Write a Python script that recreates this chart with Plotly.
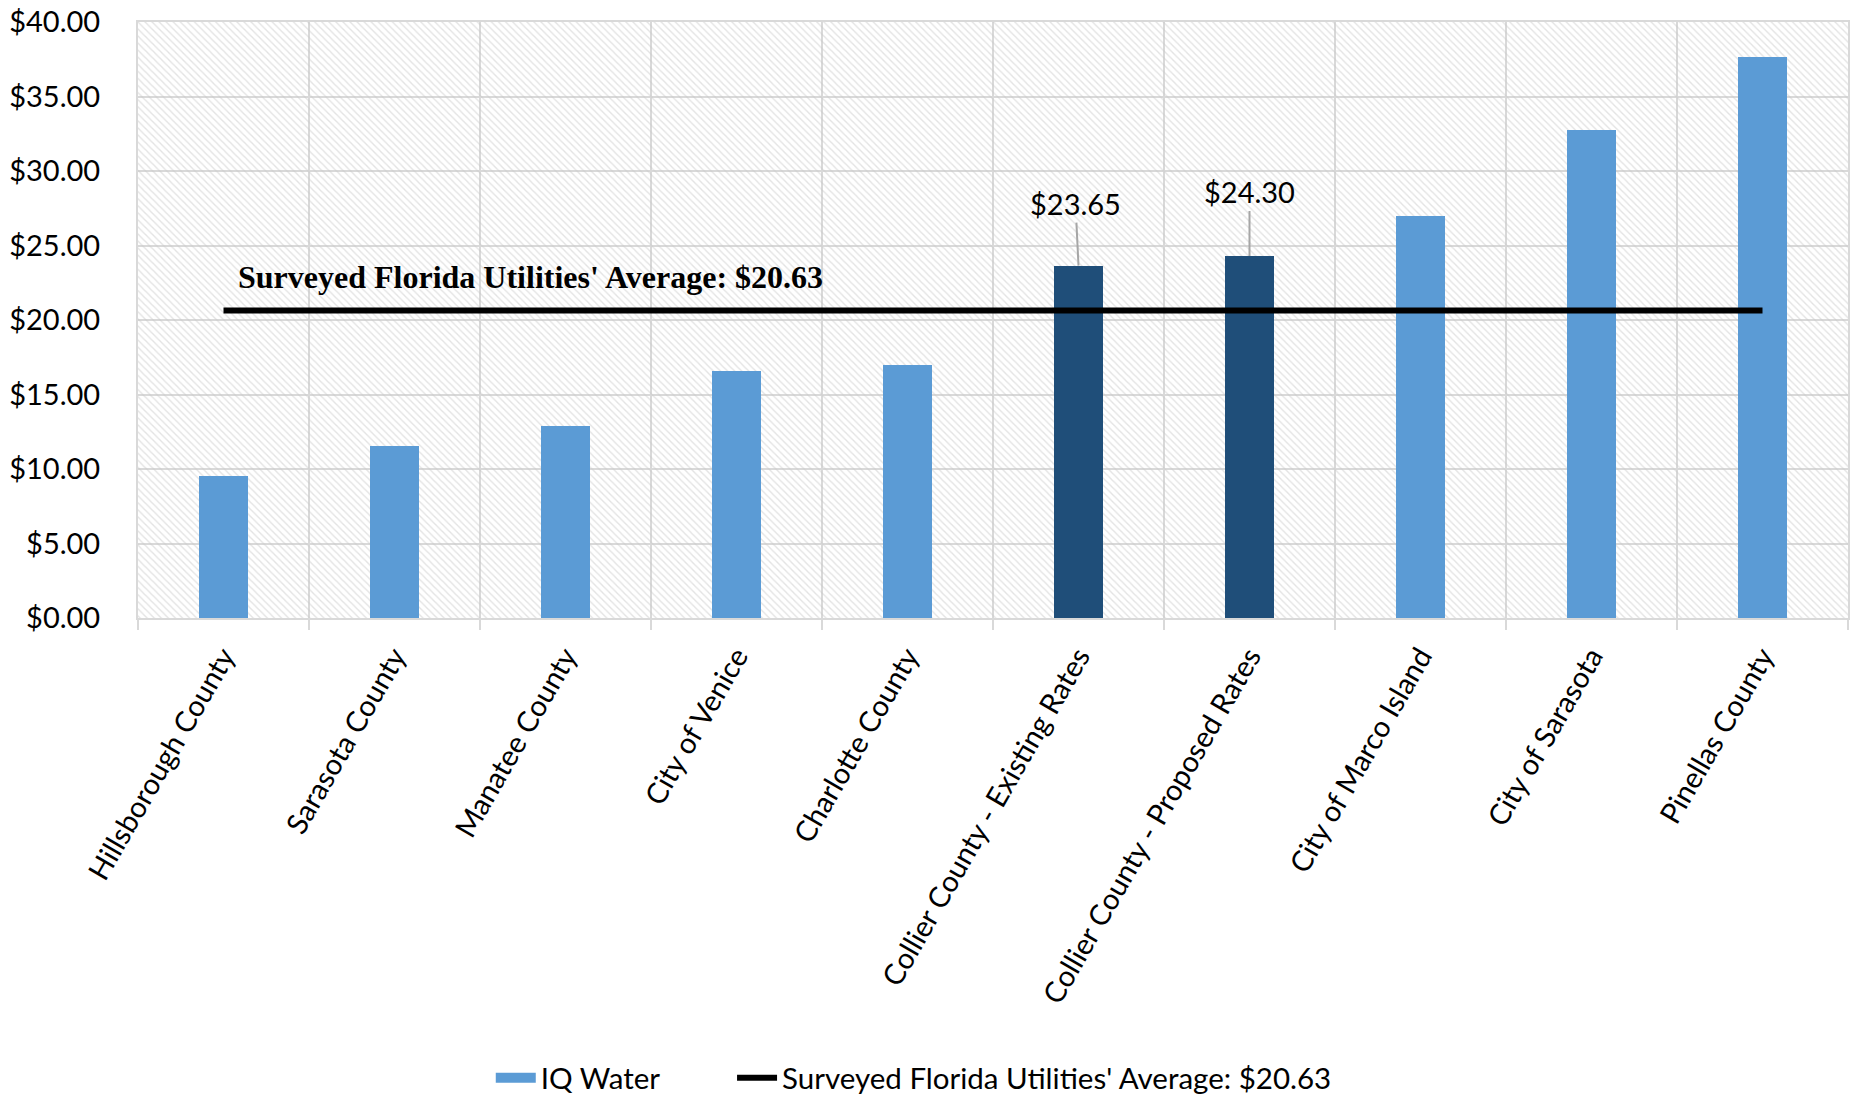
import plotly.graph_objects as go

# Monthly IQ (irrigation quality) water charges by utility
utilities = [
    "Hillsborough County",
    "Sarasota County",
    "Manatee County",
    "City of Venice",
    "Charlotte County",
    "Collier County - Existing Rates",
    "Collier County - Proposed Rates",
    "City of Marco Island",
    "City of Sarasota",
    "Pinellas County",
]
iq_charges = [9.50, 11.55, 12.90, 16.55, 17.00, 23.65, 24.30, 27.00, 32.75, 37.65]
survey_average = 20.63
average_label = "Surveyed Florida Utilities' Average: $20.63"

highlighted = {"Collier County - Existing Rates", "Collier County - Proposed Rates"}
LIGHT_BLUE = "#5B9BD5"
DARK_BLUE = "#1F4E79"
bar_colors = [DARK_BLUE if u in highlighted else LIGHT_BLUE for u in utilities]

Y_MAX = 40
FONT = "Lato, 'Open Sans', sans-serif"
LEGEND_FONT = dict(family=FONT, size=29.5, color="black")

fig = go.Figure()

# Hatched plot-area fill, tiled one full-width cell per category
fig.add_trace(go.Bar(
    x=utilities,
    y=[Y_MAX] * len(utilities),
    width=1.0,
    marker=dict(
        color="rgba(0,0,0,0)",
        line=dict(width=0),
        pattern=dict(shape="\\", fgcolor="#c8c8c8", bgcolor="rgba(0,0,0,0)",
                     size=5, solidity=0.28),
    ),
    hoverinfo="skip",
    showlegend=False,
))

fig.add_trace(go.Bar(
    x=utilities,
    y=iq_charges,
    name="IQ Water",
    legendgroup="iq",
    showlegend=False,
    width=0.287,
    marker=dict(color=bar_colors, line=dict(width=0)),
))

# Wide swatch for the IQ Water legend entry
fig.add_trace(go.Scatter(
    x=[None], y=[None],
    mode="lines",
    name="IQ Water",
    legendgroup="iq",
    legend="legend",
    line=dict(color=LIGHT_BLUE, width=17),
    hoverinfo="skip",
))

fig.add_trace(go.Scatter(
    x=utilities,
    y=[survey_average] * len(utilities),
    mode="lines",
    name=average_label,
    legend="legend2",
    line=dict(color="black", width=6),
))

# Value callouts with leader lines on the Collier County bars
for u, v in zip(utilities, iq_charges):
    if u in highlighted:
        fig.add_annotation(
            x=u, y=v, xref="x", yref="y",
            text=f"${v:.2f}",
            showarrow=True, arrowhead=0, arrowwidth=2, arrowcolor="#a6a6a6",
            ax=-3 if "Existing" in u else 0,
            ay=-62 if "Existing" in u else -64,
            standoff=0,
            font=dict(family=FONT, size=29, color="black"),
        )

fig.add_annotation(
    x=0.0573, xref="paper", xanchor="left",
    y=22.9, yref="y", yanchor="middle",
    text="<b>" + average_label + "</b>",
    showarrow=False,
    font=dict(family="'Liberation Serif', 'Times New Roman', serif", size=32, color="black"),
)

fig.update_layout(
    width=1856,
    height=1095,
    margin=dict(l=138, r=8, t=22, b=477, autoexpand=False),
    paper_bgcolor="white",
    plot_bgcolor="white",
    barmode="overlay",
    bargap=0,
    font=dict(family=FONT, size=29, color="black"),
    legend=dict(
        orientation="h",
        x=0.2063, xanchor="left",
        y=-0.772, yanchor="middle",
        font=LEGEND_FONT,
        bgcolor="rgba(0,0,0,0)",
        itemwidth=40,
    ),
    legend2=dict(
        orientation="h",
        x=0.3474, xanchor="left",
        y=-0.772, yanchor="middle",
        font=LEGEND_FONT,
        bgcolor="rgba(0,0,0,0)",
        itemwidth=40,
    ),
)

fig.update_xaxes(
    type="category",
    automargin=False,
    tickangle=-60,
    tickson="boundaries",
    ticks="outside",
    ticklen=10,
    tickwidth=2,
    tickcolor="#d9d9d9",
    ticklabelstandoff=8,
    showgrid=True,
    gridcolor="#d9d9d9",
    gridwidth=2,
    showline=True,
    linecolor="#d9d9d9",
    linewidth=2,
    mirror=True,
    tickfont=dict(family=FONT, size=29, color="black"),
)

fig.update_yaxes(
    range=[0, Y_MAX],
    automargin=False,
    dtick=5,
    tickprefix="$",
    tickformat=".2f",
    showgrid=True,
    gridcolor="#d9d9d9",
    gridwidth=2,
    showline=True,
    linecolor="#d9d9d9",
    linewidth=2,
    mirror=True,
    zeroline=False,
    ticks="",
    ticklabelstandoff=30,
    tickfont=dict(family=FONT, size=29, color="black"),
)

fig.write_html("out.html")
